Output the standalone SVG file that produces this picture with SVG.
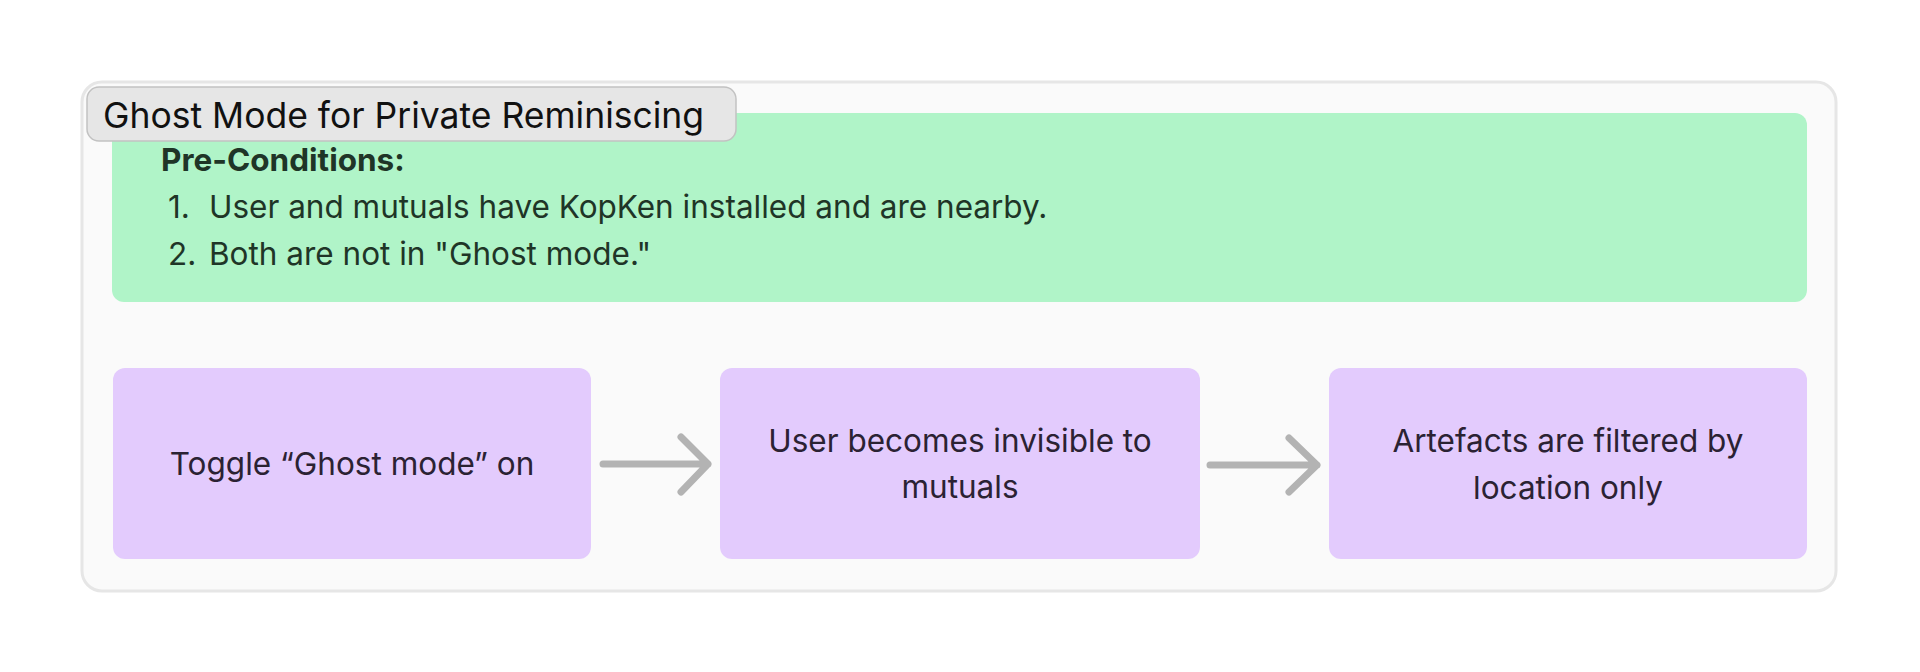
<svg xmlns="http://www.w3.org/2000/svg" width="1920" height="672" viewBox="0 0 1920 672">
<style>
.pur{fill:#e3cbfd}
.ptxt{font-family:Inter,"Noto Sans",sans-serif;font-size:31.5px;fill:#2b2233;text-anchor:middle}
.gtxt{font-family:Inter,"Noto Sans",sans-serif;font-size:31.5px;fill:#1f3527}
.arr{fill:none;stroke:#b3b3b3;stroke-width:7;stroke-linecap:round;stroke-linejoin:round}
</style>
<rect width="1920" height="672" fill="#ffffff"/>
<g id="container">
<rect x="82" y="82" width="1754" height="509" rx="20" fill="#fafafa" stroke="#e6e6e6" stroke-width="3"/>
</g>
<g id="preconditions">
<rect x="112" y="113" width="1695" height="189" rx="12" fill="#b0f4c8"/>
<text class="gtxt" x="161" y="171" font-weight="bold">Pre-Conditions:</text>
<text class="gtxt" x="168" y="218">1.</text>
<text class="gtxt" x="209" y="218">User and mutuals have KopKen installed and are nearby.</text>
<text class="gtxt" x="168" y="265">2.</text>
<text class="gtxt" x="209" y="265">Both are not in "Ghost mode."</text>
</g>
<g id="title">
<rect x="87" y="87" width="649" height="54" rx="12" fill="#e6e6e6" stroke="#c2c2c2" stroke-width="1.5"/>
<text x="103" y="128" font-family="Inter,'Noto Sans',sans-serif" font-size="35.5" fill="#111111">Ghost Mode for Private Reminiscing</text>
</g>
<g id="step1">
<rect class="pur" x="113" y="368" width="478" height="191" rx="12"/>
<text class="ptxt" x="352" y="475">Toggle “Ghost mode” on</text>
</g>
<g id="step2">
<rect class="pur" x="720" y="368" width="480" height="191" rx="12"/>
<text class="ptxt" x="960" y="452">User becomes invisible to</text>
<text class="ptxt" x="960" y="498">mutuals</text>
</g>
<g id="step3">
<rect class="pur" x="1329" y="368" width="478" height="191" rx="12"/>
<text class="ptxt" x="1568" y="452">Artefacts are filtered by</text>
<text class="ptxt" x="1568" y="499">location only</text>
</g>
<g id="connectors">
<path class="arr" d="M603 464H708M681 437L708 464L681 492"/>
<path class="arr" d="M1210 465H1317M1289 438L1317 465L1289 492"/>
</g>
</svg>
